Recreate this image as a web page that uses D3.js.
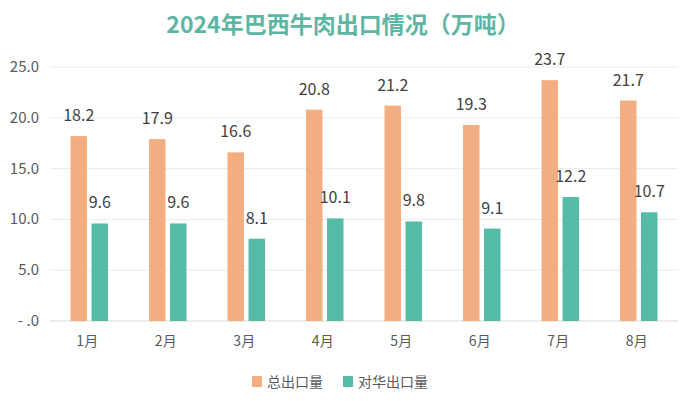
<!DOCTYPE html>
<html><head><meta charset="utf-8">
<script src="https://cdn.jsdelivr.net/npm/d3@7"></script>
<style>body{margin:0;background:#fff}svg{display:block}</style>
</head><body>
<svg id="c" width="692" height="401"></svg>
<script>
const months = ["1月","2月","3月","4月","5月","6月","7月","8月"];
const totalExport = [18.2,17.9,16.6,20.8,21.2,19.3,23.7,21.7];
const chinaExport = [9.6,9.6,8.1,10.1,9.8,9.1,12.2,10.7];
const seriesNames = ["总出口量","对华出口量"];
const yTicks = [0,5,10,15,20,25];
const title = "2024年巴西牛肉出口情况（万吨）";

const colors = ["#F2AE80","#55BBA6"];
const font = "'Noto Sans CJK SC','Noto Sans',sans-serif";
const svg = d3.select("#c");
const x = d3.scaleBand().domain(months).range([50,678]);
const y = d3.scaleLinear().domain([0,25]).range([321,67]);
const bw = 16.5, off = 10.5;

svg.append("text").attr("x",343).attr("y",33).attr("text-anchor","middle")
  .attr("font-family",font).attr("font-weight","bold").attr("font-size",23)
  .attr("fill","#5DB6A2").text(title);

// gridlines
svg.append("g").selectAll("line").data(yTicks).join("line")
  .attr("x1",50).attr("x2",678).attr("y1",d=>y(d)).attr("y2",d=>y(d))
  .attr("stroke",d=>d===0?"#d9d9d9":"#ebebeb").attr("stroke-width",1);

// y labels
svg.append("g").selectAll("text").data(yTicks).join("text")
  .attr("x",39).attr("y",d=>y(d)+5).attr("text-anchor","end")
  .attr("font-family",font).attr("font-size",15).attr("fill","#595959")
  .text(d=>d===0?"- .0":d3.format(".1f")(d));

const series = [totalExport, chinaExport];
series.forEach((vals,si)=>{
  const dx = si===0?-off:off;
  const g = svg.append("g");
  g.selectAll("rect").data(vals).join("rect")
    .attr("x",(d,i)=>x(months[i])+x.bandwidth()/2+dx-bw/2)
    .attr("width",bw).attr("y",d=>y(d)).attr("height",d=>y(0)-y(d))
    .attr("fill",colors[si]);
  g.selectAll("text").data(vals).join("text")
    .attr("x",(d,i)=>x(months[i])+x.bandwidth()/2+dx)
    .attr("y",d=>y(d)-15).attr("text-anchor","middle")
    .attr("font-family",font).attr("font-size",16).attr("fill","#404040")
    .text(d=>d3.format(".1f")(d));
});

// x labels
svg.append("g").selectAll("text").data(months).join("text")
  .attr("x",d=>x(d)+x.bandwidth()/2-2).attr("y",346).attr("text-anchor","middle")
  .attr("font-family",font).attr("font-size",14).attr("fill","#595959").text(d=>d);

// legend
const lg = svg.append("g");
const lx = [252,343];
seriesNames.forEach((n,i)=>{
  lg.append("rect").attr("x",lx[i]).attr("y",376).attr("width",10).attr("height",11).attr("fill",colors[i]);
  lg.append("text").attr("x",lx[i]+15).attr("y",387).attr("font-family",font)
    .attr("font-size",14).attr("fill","#595959").text(n);
});
</script>
</body></html>
